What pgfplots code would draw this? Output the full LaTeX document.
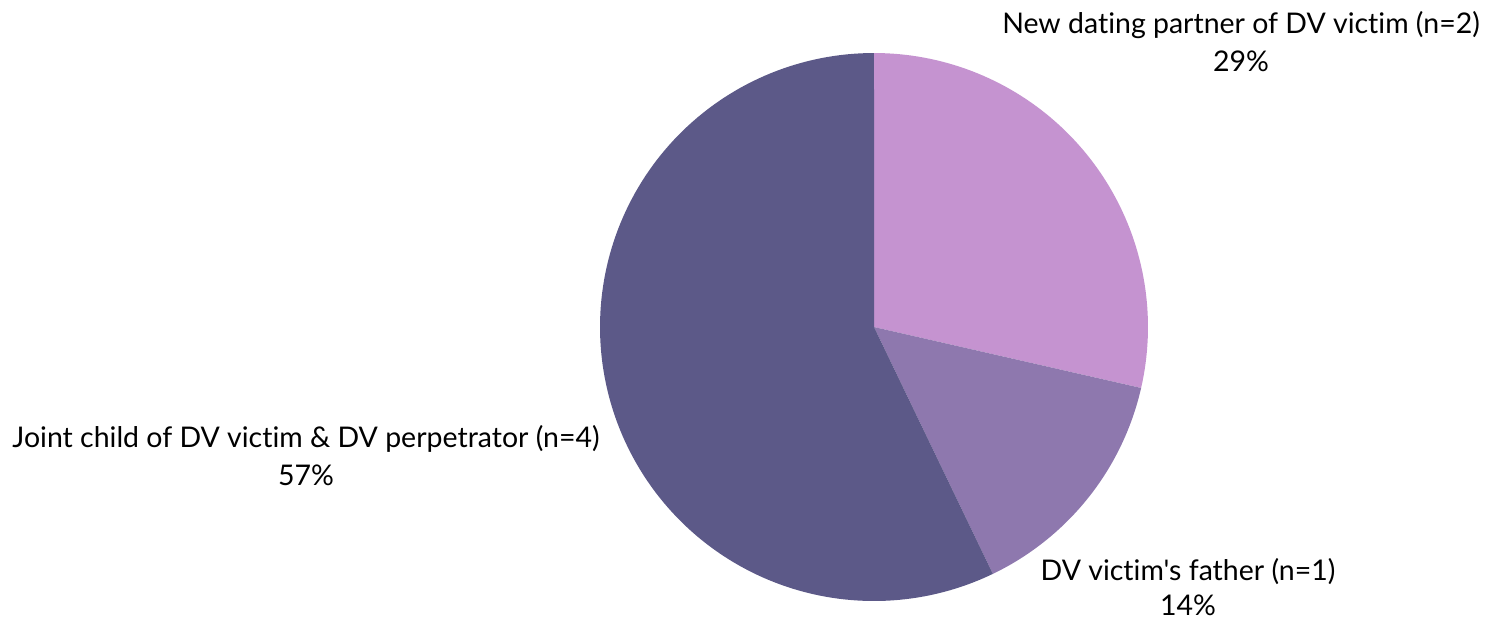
\documentclass[border=0pt]{standalone}
\usepackage{pgfplots}
\pgfplotsset{compat=1.18}
\usepackage{fontspec}
\setmainfont{Lato}[Ligatures={TeXOff,NoCommon}]
\definecolor{cA}{HTML}{C593D0}
\definecolor{cB}{HTML}{8E78AE}
\definecolor{cC}{HTML}{5C5988}
% slice values (n): 2, 1, 4 of 7 -> angles start at 90 deg, clockwise
\begin{document}
\begin{tikzpicture}
\begin{axis}[
  width=15cm, height=6.19cm, scale only axis,
  xmin=0, xmax=1500, ymin=0, ymax=619,
  axis lines=none, clip=false,
]
\path (rel axis cs:0,0) rectangle (rel axis cs:1,1);
% wedge 1: n=2 -> 102.857 deg, from 90 to -12.857
\addplot[draw=none, fill=cA, domain=90:-12.857, samples=80, variable=\t]
  ({874+274*cos(\t)},{292+274*sin(\t)}) -- (axis cs:874,292) -- cycle;
% wedge 2: n=1 -> 51.429 deg, from -12.857 to -64.286
\addplot[draw=none, fill=cB, domain=-12.857:-64.286, samples=50, variable=\t]
  ({874+274*cos(\t)},{292+274*sin(\t)}) -- (axis cs:874,292) -- cycle;
% wedge 3: n=4 -> 205.714 deg, from -64.286 to -270
\addplot[draw=none, fill=cC, domain=-64.286:-270, samples=150, variable=\t]
  ({874+274*cos(\t)},{292+274*sin(\t)}) -- (axis cs:874,292) -- cycle;
\node[align=center, font=\fontsize{8.1pt}{10.8pt}\selectfont, inner sep=0pt] at (axis cs:1241,577) {New dating partner of DV victim (n=2)\\29\%};
\node[align=center, font=\fontsize{8.1pt}{10.8pt}\selectfont, inner sep=0pt] at (axis cs:306,163) {Joint child of DV victim \& DV perpetrator (n=4)\\57\%};
\node[align=center, font=\fontsize{8.1pt}{10.2pt}\selectfont, inner sep=0pt] at (axis cs:1188,32) {DV victim's father (n=1)\\14\%};
\end{axis}
\end{tikzpicture}
\end{document}
